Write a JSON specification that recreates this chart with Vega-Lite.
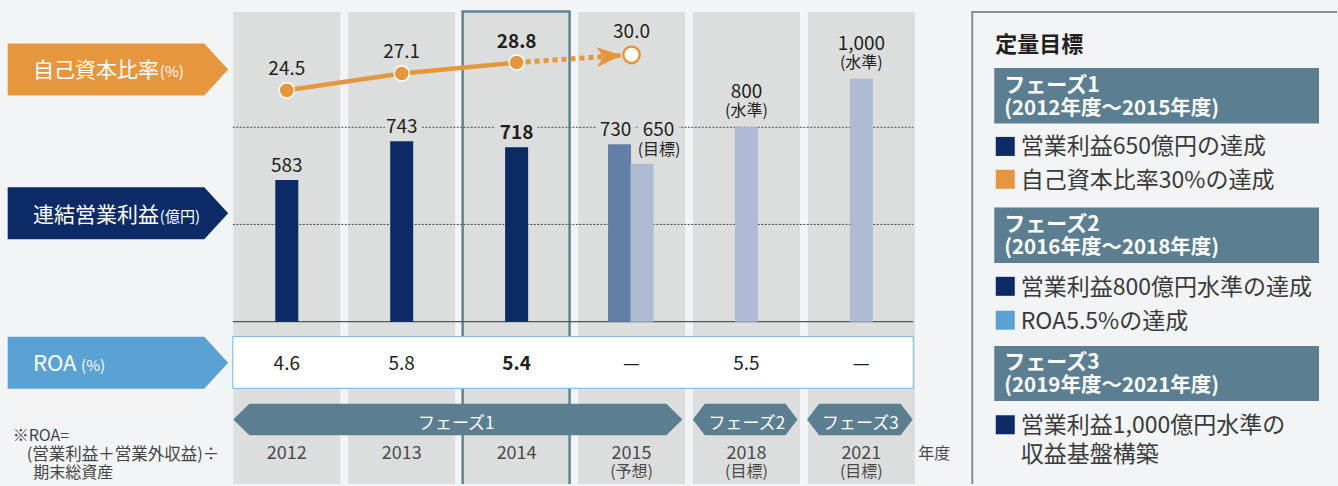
{
"$schema":"https://vega.github.io/schema/vega-lite/v6.json",
"width":1338,"height":486,
"autosize":{"type":"fit","contains":"padding"},
"padding":0,
"background":"#f2f4f6",
"config":{"view":{"stroke":null},"text":{"font":"Noto Sans CJK JP"},"scale":{"continuousPadding":0}},
"data":{"values":[{}]},
"datasets":{
"periods":[
{"period":"2012","slot":0,"year":"2012","note":"","roa":4.6},
{"period":"2013","slot":1,"year":"2013","note":"","roa":5.8},
{"period":"2014","slot":2,"year":"2014","note":"","roa":5.4},
{"period":"2015","slot":3,"year":"2015","note":"(予想)","roa":null},
{"period":"2018","slot":4,"year":"2018","note":"(目標)","roa":5.5},
{"period":"2021","slot":5,"year":"2021","note":"(目標)","roa":null}
],
"profit":[
{"period":"2012","slot":0,"value":583,"kind":"実績"},
{"period":"2013","slot":1,"value":743,"kind":"実績"},
{"period":"2014","slot":2,"value":718,"kind":"実績"},
{"period":"2015","slot":3,"value":730,"kind":"予想"},
{"period":"2015","slot":3,"value":650,"kind":"目標"},
{"period":"2018","slot":4,"value":800,"kind":"目標"},
{"period":"2021","slot":5,"value":1000,"kind":"目標"}
],
"equity":[
{"period":"2012","slot":0,"ratio":24.5,"kind":"実績"},
{"period":"2013","slot":1,"ratio":27.1,"kind":"実績"},
{"period":"2014","slot":2,"ratio":28.8,"kind":"実績"},
{"period":"2015","slot":3,"ratio":30.0,"kind":"目標"}
]
},
"layer":[
{"layer":[
{"data":{"name":"periods"},"mark":{"type":"bar","width":107,"color":"#dcdedd"},"encoding":{"x":{"field":"slot","type":"quantitative","scale":{"domain":[-2.4957,9.1391],"nice":false,"zero":false,"padding":0},"axis":null},"y":{"datum":1274.6,"type":"quantitative","scale":{"domain":[-668,1323.8],"nice":false,"zero":false,"padding":0},"axis":null},"y2":{"datum":-668}}},
{"mark":{"type":"rule","color":"#5f8396","strokeWidth":2.5},"encoding":{"x":{"datum":1.5304,"type":"quantitative","scale":{"domain":[-2.4957,9.1391],"nice":false,"zero":false,"padding":0},"axis":null},"y":{"datum":1276.6,"type":"quantitative","scale":{"domain":[-668,1323.8],"nice":false,"zero":false,"padding":0},"axis":null},"y2":{"datum":-668}}},
{"mark":{"type":"rule","color":"#5f8396","strokeWidth":2.5},"encoding":{"x":{"datum":2.4609,"type":"quantitative","scale":{"domain":[-2.4957,9.1391],"nice":false,"zero":false,"padding":0},"axis":null},"y":{"datum":1276.6,"type":"quantitative","scale":{"domain":[-668,1323.8],"nice":false,"zero":false,"padding":0},"axis":null},"y2":{"datum":-668}}},
{"mark":{"type":"rule","color":"#5f8396","strokeWidth":2.5},"encoding":{"x":{"datum":1.52,"type":"quantitative","scale":{"domain":[-2.4957,9.1391],"nice":false,"zero":false,"padding":0},"axis":null},"x2":{"datum":2.471},"y":{"datum":1276.6,"type":"quantitative","scale":{"domain":[-668,1323.8],"nice":false,"zero":false,"padding":0},"axis":null}}},
{"data":{"values":[{"level":400},{"level":800}]},"mark":{"type":"rule","color":"#4d4d4d","strokeWidth":1,"strokeDash":[2,1.5]},"encoding":{"x":{"datum":-0.4696,"type":"quantitative","scale":{"domain":[-2.4957,9.1391],"nice":false,"zero":false,"padding":0},"axis":null},"x2":{"datum":5.4522},"y":{"field":"level","type":"quantitative","scale":{"domain":[-668,1323.8],"nice":false,"zero":false,"padding":0},"axis":null}}},
{"mark":{"type":"rule","color":"#555555","strokeWidth":1.2},"encoding":{"x":{"datum":-0.4696,"type":"quantitative","scale":{"domain":[-2.4957,9.1391],"nice":false,"zero":false,"padding":0},"axis":null},"x2":{"datum":5.4522},"y":{"datum":0,"type":"quantitative","scale":{"domain":[-668,1323.8],"nice":false,"zero":false,"padding":0},"axis":null}}},
{"data":{"name":"profit"},"transform":[{"filter":"datum.period !== '2015'"}],"mark":{"type":"bar","width":23},"encoding":{"x":{"field":"slot","type":"quantitative","scale":{"domain":[-2.4957,9.1391],"nice":false,"zero":false,"padding":0},"axis":null},"y":{"field":"value","type":"quantitative","scale":{"domain":[-668,1323.8],"nice":false,"zero":false,"padding":0},"axis":null},"y2":{"datum":0},"color":{"field":"kind","type":"nominal","scale":{"domain":["実績","予想","目標"],"range":["#0b2a66","#647fa6","#aebbd3"]},"legend":null}}},
{"data":{"name":"profit"},"transform":[{"filter":"datum.period === '2015' && datum.kind === '予想'"}],"mark":{"type":"bar","width":23,"xOffset":-12},"encoding":{"x":{"field":"slot","type":"quantitative","scale":{"domain":[-2.4957,9.1391],"nice":false,"zero":false,"padding":0},"axis":null},"y":{"field":"value","type":"quantitative","scale":{"domain":[-668,1323.8],"nice":false,"zero":false,"padding":0},"axis":null},"y2":{"datum":0},"color":{"field":"kind","type":"nominal","scale":{"domain":["実績","予想","目標"],"range":["#0b2a66","#647fa6","#aebbd3"]},"legend":null}}},
{"data":{"name":"profit"},"transform":[{"filter":"datum.period === '2015' && datum.kind === '目標'"}],"mark":{"type":"bar","width":23,"xOffset":10.5},"encoding":{"x":{"field":"slot","type":"quantitative","scale":{"domain":[-2.4957,9.1391],"nice":false,"zero":false,"padding":0},"axis":null},"y":{"field":"value","type":"quantitative","scale":{"domain":[-668,1323.8],"nice":false,"zero":false,"padding":0},"axis":null},"y2":{"datum":0},"color":{"field":"kind","type":"nominal","scale":{"domain":["実績","予想","目標"],"range":["#0b2a66","#647fa6","#aebbd3"]},"legend":null}}},
{"data":{"name":"profit"},"transform":[{"filter":"datum.period === '2012' || datum.period === '2013'"}],"mark":{"type":"text","fontSize":19,"fill":"#dcdedd","stroke":"#dcdedd","strokeWidth":11,"strokeJoin":"round","align":"center","baseline":"alphabetic","dy":-8},"encoding":{"x":{"field":"slot","type":"quantitative","scale":{"domain":[-2.4957,9.1391],"nice":false,"zero":false,"padding":0},"axis":null},"y":{"field":"value","type":"quantitative","scale":{"domain":[-668,1323.8],"nice":false,"zero":false,"padding":0},"axis":null},"text":{"field":"value","type":"quantitative","format":","}}},
{"data":{"name":"profit"},"transform":[{"filter":"datum.period === '2012' || datum.period === '2013'"}],"mark":{"type":"text","fontSize":19,"fill":"#231f20","align":"center","baseline":"alphabetic","dy":-8},"encoding":{"x":{"field":"slot","type":"quantitative","scale":{"domain":[-2.4957,9.1391],"nice":false,"zero":false,"padding":0},"axis":null},"y":{"field":"value","type":"quantitative","scale":{"domain":[-668,1323.8],"nice":false,"zero":false,"padding":0},"axis":null},"text":{"field":"value","type":"quantitative","format":","}}},
{"data":{"name":"profit"},"transform":[{"filter":"datum.period === '2014'"}],"mark":{"type":"text","fontSize":19,"fontWeight":"bold","fill":"#dcdedd","stroke":"#dcdedd","strokeWidth":11,"strokeJoin":"round","align":"center","baseline":"alphabetic","dy":-8},"encoding":{"x":{"field":"slot","type":"quantitative","scale":{"domain":[-2.4957,9.1391],"nice":false,"zero":false,"padding":0},"axis":null},"y":{"field":"value","type":"quantitative","scale":{"domain":[-668,1323.8],"nice":false,"zero":false,"padding":0},"axis":null},"text":{"field":"value","type":"quantitative","format":","}}},
{"data":{"name":"profit"},"transform":[{"filter":"datum.period === '2014'"}],"mark":{"type":"text","fontSize":19,"fontWeight":"bold","fill":"#231f20","align":"center","baseline":"alphabetic","dy":-8},"encoding":{"x":{"field":"slot","type":"quantitative","scale":{"domain":[-2.4957,9.1391],"nice":false,"zero":false,"padding":0},"axis":null},"y":{"field":"value","type":"quantitative","scale":{"domain":[-668,1323.8],"nice":false,"zero":false,"padding":0},"axis":null},"text":{"field":"value","type":"quantitative","format":","}}},
{"data":{"name":"profit"},"transform":[{"filter":"datum.period === '2015' && datum.kind === '予想'"}],"mark":{"type":"text","fontSize":19,"fill":"#dcdedd","stroke":"#dcdedd","strokeWidth":11,"strokeJoin":"round","align":"center","baseline":"alphabetic","dx":-16,"dy":-8},"encoding":{"x":{"field":"slot","type":"quantitative","scale":{"domain":[-2.4957,9.1391],"nice":false,"zero":false,"padding":0},"axis":null},"y":{"field":"value","type":"quantitative","scale":{"domain":[-668,1323.8],"nice":false,"zero":false,"padding":0},"axis":null},"text":{"field":"value","type":"quantitative","format":","}}},
{"data":{"name":"profit"},"transform":[{"filter":"datum.period === '2015' && datum.kind === '予想'"}],"mark":{"type":"text","fontSize":19,"fill":"#231f20","align":"center","baseline":"alphabetic","dx":-16,"dy":-8},"encoding":{"x":{"field":"slot","type":"quantitative","scale":{"domain":[-2.4957,9.1391],"nice":false,"zero":false,"padding":0},"axis":null},"y":{"field":"value","type":"quantitative","scale":{"domain":[-668,1323.8],"nice":false,"zero":false,"padding":0},"axis":null},"text":{"field":"value","type":"quantitative","format":","}}},
{"data":{"name":"profit"},"transform":[{"filter":"datum.period === '2015' && datum.kind === '目標'"}],"mark":{"type":"text","fontSize":19,"fill":"#dcdedd","stroke":"#dcdedd","strokeWidth":11,"strokeJoin":"round","align":"center","baseline":"alphabetic","dx":27,"dy":-27.7},"encoding":{"x":{"field":"slot","type":"quantitative","scale":{"domain":[-2.4957,9.1391],"nice":false,"zero":false,"padding":0},"axis":null},"y":{"field":"value","type":"quantitative","scale":{"domain":[-668,1323.8],"nice":false,"zero":false,"padding":0},"axis":null},"text":{"field":"value","type":"quantitative","format":","}}},
{"data":{"name":"profit"},"transform":[{"filter":"datum.period === '2015' && datum.kind === '目標'"}],"mark":{"type":"text","fontSize":19,"fill":"#231f20","align":"center","baseline":"alphabetic","dx":27,"dy":-27.7},"encoding":{"x":{"field":"slot","type":"quantitative","scale":{"domain":[-2.4957,9.1391],"nice":false,"zero":false,"padding":0},"axis":null},"y":{"field":"value","type":"quantitative","scale":{"domain":[-668,1323.8],"nice":false,"zero":false,"padding":0},"axis":null},"text":{"field":"value","type":"quantitative","format":","}}},
{"data":{"name":"profit"},"transform":[{"filter":"datum.period === '2015' && datum.kind === '目標'"}],"mark":{"type":"text","fontSize":16,"fill":"#231f20","align":"center","baseline":"alphabetic","dx":27.5,"dy":-8.4,"text":"(目標)"},"encoding":{"x":{"field":"slot","type":"quantitative","scale":{"domain":[-2.4957,9.1391],"nice":false,"zero":false,"padding":0},"axis":null},"y":{"field":"value","type":"quantitative","scale":{"domain":[-668,1323.8],"nice":false,"zero":false,"padding":0},"axis":null}}},
{"data":{"name":"profit"},"transform":[{"filter":"datum.period === '2018' || datum.period === '2021'"}],"mark":{"type":"text","fontSize":19,"fill":"#231f20","align":"center","baseline":"alphabetic","dy":-29},"encoding":{"x":{"field":"slot","type":"quantitative","scale":{"domain":[-2.4957,9.1391],"nice":false,"zero":false,"padding":0},"axis":null},"y":{"field":"value","type":"quantitative","scale":{"domain":[-668,1323.8],"nice":false,"zero":false,"padding":0},"axis":null},"text":{"field":"value","type":"quantitative","format":","}}},
{"data":{"name":"profit"},"transform":[{"filter":"datum.period === '2018' || datum.period === '2021'"}],"mark":{"type":"text","fontSize":16,"fill":"#231f20","align":"center","baseline":"alphabetic","dy":-11,"text":"(水準)"},"encoding":{"x":{"field":"slot","type":"quantitative","scale":{"domain":[-2.4957,9.1391],"nice":false,"zero":false,"padding":0},"axis":null},"y":{"field":"value","type":"quantitative","scale":{"domain":[-668,1323.8],"nice":false,"zero":false,"padding":0},"axis":null}}},
{"mark":{"type":"rect","fill":"#ffffff","stroke":"#8dbde2","strokeWidth":1.2},"encoding":{"x":{"datum":-0.4696,"type":"quantitative","scale":{"domain":[-2.4957,9.1391],"nice":false,"zero":false,"padding":0},"axis":null},"x2":{"datum":5.4522},"y":{"datum":-61.5,"type":"quantitative","scale":{"domain":[-668,1323.8],"nice":false,"zero":false,"padding":0},"axis":null},"y2":{"datum":-274.6}}},
{"data":{"name":"periods"},"transform":[{"filter":"datum.roa != null && datum.period !== '2014'"}],"mark":{"type":"text","fontSize":19,"fill":"#231f20","align":"center","baseline":"alphabetic"},"encoding":{"x":{"field":"slot","type":"quantitative","scale":{"domain":[-2.4957,9.1391],"nice":false,"zero":false,"padding":0},"axis":null},"y":{"datum":-200,"type":"quantitative","scale":{"domain":[-668,1323.8],"nice":false,"zero":false,"padding":0},"axis":null},"text":{"field":"roa","type":"quantitative","format":".1f"}}},
{"data":{"name":"periods"},"transform":[{"filter":"datum.period === '2014'"}],"mark":{"type":"text","fontSize":19,"fontWeight":"bold","fill":"#231f20","align":"center","baseline":"alphabetic"},"encoding":{"x":{"field":"slot","type":"quantitative","scale":{"domain":[-2.4957,9.1391],"nice":false,"zero":false,"padding":0},"axis":null},"y":{"datum":-200,"type":"quantitative","scale":{"domain":[-668,1323.8],"nice":false,"zero":false,"padding":0},"axis":null},"text":{"field":"roa","type":"quantitative","format":".1f"}}},
{"data":{"name":"periods"},"transform":[{"filter":"datum.roa == null"}],"mark":{"type":"text","fontSize":19,"fill":"#231f20","align":"center","baseline":"alphabetic","text":"—"},"encoding":{"x":{"field":"slot","type":"quantitative","scale":{"domain":[-2.4957,9.1391],"nice":false,"zero":false,"padding":0},"axis":null},"y":{"datum":-200,"type":"quantitative","scale":{"domain":[-668,1323.8],"nice":false,"zero":false,"padding":0},"axis":null}}},
{"mark":{"type":"point","shape":"M-14.2,0L-13.19,-1L13.19,-1L14.2,0L13.19,1L-13.19,1Z","size":1000,"filled":true,"fill":"#5b7e91","opacity":1,"strokeWidth":0},"encoding":{"x":{"datum":1.4887,"type":"quantitative","scale":{"domain":[-2.4957,9.1391],"nice":false,"zero":false,"padding":0},"axis":null},"y":{"datum":-402.5,"type":"quantitative","scale":{"domain":[-668,1323.8],"nice":false,"zero":false,"padding":0},"axis":null}}},
{"mark":{"type":"point","shape":"M-3.31,0L-2.55,-1L2.55,-1L3.31,0L2.55,1L-2.55,1Z","size":1000,"filled":true,"fill":"#5b7e91","opacity":1,"strokeWidth":0},"encoding":{"x":{"datum":3.9887,"type":"quantitative","scale":{"domain":[-2.4957,9.1391],"nice":false,"zero":false,"padding":0},"axis":null},"y":{"datum":-402.5,"type":"quantitative","scale":{"domain":[-668,1323.8],"nice":false,"zero":false,"padding":0},"axis":null}}},
{"mark":{"type":"point","shape":"M-3.34,0L-2.58,-1L2.58,-1L3.34,0L2.58,1L-2.58,1Z","size":1000,"filled":true,"fill":"#5b7e91","opacity":1,"strokeWidth":0},"encoding":{"x":{"datum":4.987,"type":"quantitative","scale":{"domain":[-2.4957,9.1391],"nice":false,"zero":false,"padding":0},"axis":null},"y":{"datum":-402.5,"type":"quantitative","scale":{"domain":[-668,1323.8],"nice":false,"zero":false,"padding":0},"axis":null}}},
{"mark":{"type":"text","text":"フェーズ1","fontSize":17,"fill":"#ffffff","align":"center","baseline":"alphabetic"},"encoding":{"x":{"datum":1.474,"type":"quantitative","scale":{"domain":[-2.4957,9.1391],"nice":false,"zero":false,"padding":0},"axis":null},"y":{"datum":-441,"type":"quantitative","scale":{"domain":[-668,1323.8],"nice":false,"zero":false,"padding":0},"axis":null}}},
{"mark":{"type":"text","text":"フェーズ2","fontSize":17,"fill":"#ffffff","align":"center","baseline":"alphabetic"},"encoding":{"x":{"datum":4.004,"type":"quantitative","scale":{"domain":[-2.4957,9.1391],"nice":false,"zero":false,"padding":0},"axis":null},"y":{"datum":-441,"type":"quantitative","scale":{"domain":[-668,1323.8],"nice":false,"zero":false,"padding":0},"axis":null}}},
{"mark":{"type":"text","text":"フェーズ3","fontSize":17,"fill":"#ffffff","align":"center","baseline":"alphabetic"},"encoding":{"x":{"datum":4.991,"type":"quantitative","scale":{"domain":[-2.4957,9.1391],"nice":false,"zero":false,"padding":0},"axis":null},"y":{"datum":-441,"type":"quantitative","scale":{"domain":[-668,1323.8],"nice":false,"zero":false,"padding":0},"axis":null}}},
{"data":{"name":"periods"},"mark":{"type":"text","fontSize":18,"fill":"#4a4a4a","align":"center","baseline":"alphabetic"},"encoding":{"x":{"field":"slot","type":"quantitative","scale":{"domain":[-2.4957,9.1391],"nice":false,"zero":false,"padding":0},"axis":null},"y":{"datum":-566,"type":"quantitative","scale":{"domain":[-668,1323.8],"nice":false,"zero":false,"padding":0},"axis":null},"text":{"field":"year","type":"nominal"}}},
{"data":{"name":"periods"},"mark":{"type":"text","fontSize":16,"fill":"#4a4a4a","align":"center","baseline":"alphabetic"},"encoding":{"x":{"field":"slot","type":"quantitative","scale":{"domain":[-2.4957,9.1391],"nice":false,"zero":false,"padding":0},"axis":null},"y":{"datum":-641,"type":"quantitative","scale":{"domain":[-668,1323.8],"nice":false,"zero":false,"padding":0},"axis":null},"text":{"field":"note","type":"nominal"}}},
{"mark":{"type":"text","text":"年度","fontSize":16,"fill":"#4a4a4a","align":"left","baseline":"alphabetic"},"encoding":{"x":{"datum":5.4957,"type":"quantitative","scale":{"domain":[-2.4957,9.1391],"nice":false,"zero":false,"padding":0},"axis":null},"y":{"datum":-565,"type":"quantitative","scale":{"domain":[-668,1323.8],"nice":false,"zero":false,"padding":0},"axis":null}}},
{"mark":{"type":"point","shape":"M-4.24,-1L3.32,-1L4.24,0L3.32,1L-4.24,1Z","size":2704,"filled":true,"fill":"#e6963c","opacity":1,"strokeWidth":0},"encoding":{"x":{"datum":-1.4696,"type":"quantitative","scale":{"domain":[-2.4957,9.1391],"nice":false,"zero":false,"padding":0},"axis":null},"y":{"datum":1038.1,"type":"quantitative","scale":{"domain":[-668,1323.8],"nice":false,"zero":false,"padding":0},"axis":null}}},
{"mark":{"type":"point","shape":"M-4.24,-1L3.32,-1L4.24,0L3.32,1L-4.24,1Z","size":2704,"filled":true,"fill":"#0b2a66","opacity":1,"strokeWidth":0},"encoding":{"x":{"datum":-1.4696,"type":"quantitative","scale":{"domain":[-2.4957,9.1391],"nice":false,"zero":false,"padding":0},"axis":null},"y":{"datum":445.9,"type":"quantitative","scale":{"domain":[-668,1323.8],"nice":false,"zero":false,"padding":0},"axis":null}}},
{"mark":{"type":"point","shape":"M-4.24,-1L3.32,-1L4.24,0L3.32,1L-4.24,1Z","size":2704,"filled":true,"fill":"#5aa2d4","opacity":1,"strokeWidth":0},"encoding":{"x":{"datum":-1.4696,"type":"quantitative","scale":{"domain":[-2.4957,9.1391],"nice":false,"zero":false,"padding":0},"axis":null},"y":{"datum":-168.9,"type":"quantitative","scale":{"domain":[-668,1323.8],"nice":false,"zero":false,"padding":0},"axis":null}}},
{"mark":{"type":"text","text":"自己資本比率","fontSize":21,"fill":"#ffffff","align":"left","baseline":"alphabetic"},"encoding":{"x":{"datum":-2.2087,"type":"quantitative","scale":{"domain":[-2.4957,9.1391],"nice":false,"zero":false,"padding":0},"axis":null},"y":{"datum":1006.2,"type":"quantitative","scale":{"domain":[-668,1323.8],"nice":false,"zero":false,"padding":0},"axis":null}}},
{"mark":{"type":"text","text":"(%)","fontSize":15,"fill":"#ffffff","align":"left","baseline":"alphabetic"},"encoding":{"x":{"datum":-1.105,"type":"quantitative","scale":{"domain":[-2.4957,9.1391],"nice":false,"zero":false,"padding":0},"axis":null},"y":{"datum":1006.2,"type":"quantitative","scale":{"domain":[-668,1323.8],"nice":false,"zero":false,"padding":0},"axis":null}}},
{"mark":{"type":"text","text":"連結営業利益","fontSize":21,"fill":"#ffffff","align":"left","baseline":"alphabetic"},"encoding":{"x":{"datum":-2.2087,"type":"quantitative","scale":{"domain":[-2.4957,9.1391],"nice":false,"zero":false,"padding":0},"axis":null},"y":{"datum":411.9,"type":"quantitative","scale":{"domain":[-668,1323.8],"nice":false,"zero":false,"padding":0},"axis":null}}},
{"mark":{"type":"text","text":"(億円)","fontSize":15,"fill":"#ffffff","align":"left","baseline":"alphabetic"},"encoding":{"x":{"datum":-1.105,"type":"quantitative","scale":{"domain":[-2.4957,9.1391],"nice":false,"zero":false,"padding":0},"axis":null},"y":{"datum":411.9,"type":"quantitative","scale":{"domain":[-668,1323.8],"nice":false,"zero":false,"padding":0},"axis":null}}},
{"mark":{"type":"text","text":"ROA","fontSize":22,"fill":"#ffffff","align":"left","baseline":"alphabetic"},"encoding":{"x":{"datum":-2.2087,"type":"quantitative","scale":{"domain":[-2.4957,9.1391],"nice":false,"zero":false,"padding":0},"axis":null},"y":{"datum":-204.9,"type":"quantitative","scale":{"domain":[-668,1323.8],"nice":false,"zero":false,"padding":0},"axis":null}}},
{"mark":{"type":"text","text":"(%)","fontSize":15,"fill":"#ffffff","align":"left","baseline":"alphabetic"},"encoding":{"x":{"datum":-1.79,"type":"quantitative","scale":{"domain":[-2.4957,9.1391],"nice":false,"zero":false,"padding":0},"axis":null},"y":{"datum":-204.9,"type":"quantitative","scale":{"domain":[-668,1323.8],"nice":false,"zero":false,"padding":0},"axis":null}}},
{"mark":{"type":"text","text":"※ROA=","fontSize":16,"fill":"#444444","align":"left","baseline":"alphabetic"},"encoding":{"x":{"datum":-2.3852,"type":"quantitative","scale":{"domain":[-2.4957,9.1391],"nice":false,"zero":false,"padding":0},"axis":null},"y":{"datum":-493,"type":"quantitative","scale":{"domain":[-668,1323.8],"nice":false,"zero":false,"padding":0},"axis":null}}},
{"mark":{"type":"text","text":"(営業利益＋営業外収益)÷","fontSize":16.5,"fill":"#444444","align":"left","baseline":"alphabetic"},"encoding":{"x":{"datum":-2.2635,"type":"quantitative","scale":{"domain":[-2.4957,9.1391],"nice":false,"zero":false,"padding":0},"axis":null},"y":{"datum":-568.5,"type":"quantitative","scale":{"domain":[-668,1323.8],"nice":false,"zero":false,"padding":0},"axis":null}}},
{"mark":{"type":"text","text":"期末総資産","fontSize":16,"fill":"#444444","align":"left","baseline":"alphabetic"},"encoding":{"x":{"datum":-2.2061,"type":"quantitative","scale":{"domain":[-2.4957,9.1391],"nice":false,"zero":false,"padding":0},"axis":null},"y":{"datum":-643.4,"type":"quantitative","scale":{"domain":[-668,1323.8],"nice":false,"zero":false,"padding":0},"axis":null}}},
{"mark":{"type":"rule","color":"#8c8c8c","strokeWidth":2},"encoding":{"x":{"datum":5.9652,"type":"quantitative","scale":{"domain":[-2.4957,9.1391],"nice":false,"zero":false,"padding":0},"axis":null},"y":{"datum":1274.6,"type":"quantitative","scale":{"domain":[-668,1323.8],"nice":false,"zero":false,"padding":0},"axis":null},"y2":{"datum":-668}}},
{"mark":{"type":"rule","color":"#8c8c8c","strokeWidth":2},"encoding":{"x":{"datum":5.9565,"type":"quantitative","scale":{"domain":[-2.4957,9.1391],"nice":false,"zero":false,"padding":0},"axis":null},"x2":{"datum":9.1391},"y":{"datum":1274.6,"type":"quantitative","scale":{"domain":[-668,1323.8],"nice":false,"zero":false,"padding":0},"axis":null}}},
{"mark":{"type":"text","text":"定量目標","fontSize":22,"fontWeight":"bold","fill":"#231f20","align":"left","baseline":"alphabetic"},"encoding":{"x":{"datum":6.1652,"type":"quantitative","scale":{"domain":[-2.4957,9.1391],"nice":false,"zero":false,"padding":0},"axis":null},"y":{"datum":1110.7,"type":"quantitative","scale":{"domain":[-668,1323.8],"nice":false,"zero":false,"padding":0},"axis":null}}},
{"mark":{"type":"rect","fill":"#5b7e91"},"encoding":{"x":{"datum":6.1565,"type":"quantitative","scale":{"domain":[-2.4957,9.1391],"nice":false,"zero":false,"padding":0},"axis":null},"x2":{"datum":8.9826},"y":{"datum":1043.9,"type":"quantitative","scale":{"domain":[-668,1323.8],"nice":false,"zero":false,"padding":0},"axis":null},"y2":{"datum":815.6}}},
{"mark":{"type":"rect","fill":"#5b7e91"},"encoding":{"x":{"datum":6.1565,"type":"quantitative","scale":{"domain":[-2.4957,9.1391],"nice":false,"zero":false,"padding":0},"axis":null},"x2":{"datum":8.9826},"y":{"datum":470.1,"type":"quantitative","scale":{"domain":[-668,1323.8],"nice":false,"zero":false,"padding":0},"axis":null},"y2":{"datum":241.8}}},
{"mark":{"type":"rect","fill":"#5b7e91"},"encoding":{"x":{"datum":6.1565,"type":"quantitative","scale":{"domain":[-2.4957,9.1391],"nice":false,"zero":false,"padding":0},"axis":null},"x2":{"datum":8.9826},"y":{"datum":-99.6,"type":"quantitative","scale":{"domain":[-668,1323.8],"nice":false,"zero":false,"padding":0},"axis":null},"y2":{"datum":-326.7}}},
{"mark":{"type":"text","text":"フェーズ1","fontSize":21,"fontWeight":"bold","fill":"#ffffff","align":"left","baseline":"alphabetic"},"encoding":{"x":{"datum":6.2435,"type":"quantitative","scale":{"domain":[-2.4957,9.1391],"nice":false,"zero":false,"padding":0},"axis":null},"y":{"datum":943.9,"type":"quantitative","scale":{"domain":[-668,1323.8],"nice":false,"zero":false,"padding":0},"axis":null}}},
{"mark":{"type":"text","text":"(2012年度〜2015年度)","fontSize":20.5,"fontWeight":"bold","fill":"#ffffff","align":"left","baseline":"alphabetic"},"encoding":{"x":{"datum":6.2435,"type":"quantitative","scale":{"domain":[-2.4957,9.1391],"nice":false,"zero":false,"padding":0},"axis":null},"y":{"datum":852.5,"type":"quantitative","scale":{"domain":[-668,1323.8],"nice":false,"zero":false,"padding":0},"axis":null}}},
{"mark":{"type":"text","text":"フェーズ2","fontSize":21,"fontWeight":"bold","fill":"#ffffff","align":"left","baseline":"alphabetic"},"encoding":{"x":{"datum":6.2435,"type":"quantitative","scale":{"domain":[-2.4957,9.1391],"nice":false,"zero":false,"padding":0},"axis":null},"y":{"datum":374.2,"type":"quantitative","scale":{"domain":[-668,1323.8],"nice":false,"zero":false,"padding":0},"axis":null}}},
{"mark":{"type":"text","text":"(2016年度〜2018年度)","fontSize":20.5,"fontWeight":"bold","fill":"#ffffff","align":"left","baseline":"alphabetic"},"encoding":{"x":{"datum":6.2435,"type":"quantitative","scale":{"domain":[-2.4957,9.1391],"nice":false,"zero":false,"padding":0},"axis":null},"y":{"datum":278.7,"type":"quantitative","scale":{"domain":[-668,1323.8],"nice":false,"zero":false,"padding":0},"axis":null}}},
{"mark":{"type":"text","text":"フェーズ3","fontSize":21,"fontWeight":"bold","fill":"#ffffff","align":"left","baseline":"alphabetic"},"encoding":{"x":{"datum":6.2435,"type":"quantitative","scale":{"domain":[-2.4957,9.1391],"nice":false,"zero":false,"padding":0},"axis":null},"y":{"datum":-195.5,"type":"quantitative","scale":{"domain":[-668,1323.8],"nice":false,"zero":false,"padding":0},"axis":null}}},
{"mark":{"type":"text","text":"(2019年度〜2021年度)","fontSize":20.5,"fontWeight":"bold","fill":"#ffffff","align":"left","baseline":"alphabetic"},"encoding":{"x":{"datum":6.2435,"type":"quantitative","scale":{"domain":[-2.4957,9.1391],"nice":false,"zero":false,"padding":0},"axis":null},"y":{"datum":-291,"type":"quantitative","scale":{"domain":[-668,1323.8],"nice":false,"zero":false,"padding":0},"axis":null}}},
{"mark":{"type":"point","shape":"square","size":361,"filled":true,"fill":"#0b2a66","opacity":1,"strokeWidth":0},"encoding":{"x":{"datum":6.2522,"type":"quantitative","scale":{"domain":[-2.4957,9.1391],"nice":false,"zero":false,"padding":0},"axis":null},"y":{"datum":721.3,"type":"quantitative","scale":{"domain":[-668,1323.8],"nice":false,"zero":false,"padding":0},"axis":null}}},
{"mark":{"type":"point","shape":"square","size":361,"filled":true,"fill":"#e6963c","opacity":1,"strokeWidth":0},"encoding":{"x":{"datum":6.2522,"type":"quantitative","scale":{"domain":[-2.4957,9.1391],"nice":false,"zero":false,"padding":0},"axis":null},"y":{"datum":586.1,"type":"quantitative","scale":{"domain":[-668,1323.8],"nice":false,"zero":false,"padding":0},"axis":null}}},
{"mark":{"type":"point","shape":"square","size":361,"filled":true,"fill":"#0b2a66","opacity":1,"strokeWidth":0},"encoding":{"x":{"datum":6.2522,"type":"quantitative","scale":{"domain":[-2.4957,9.1391],"nice":false,"zero":false,"padding":0},"axis":null},"y":{"datum":145.5,"type":"quantitative","scale":{"domain":[-668,1323.8],"nice":false,"zero":false,"padding":0},"axis":null}}},
{"mark":{"type":"point","shape":"square","size":361,"filled":true,"fill":"#5aa2d4","opacity":1,"strokeWidth":0},"encoding":{"x":{"datum":6.2522,"type":"quantitative","scale":{"domain":[-2.4957,9.1391],"nice":false,"zero":false,"padding":0},"axis":null},"y":{"datum":6.1,"type":"quantitative","scale":{"domain":[-668,1323.8],"nice":false,"zero":false,"padding":0},"axis":null}}},
{"mark":{"type":"point","shape":"square","size":361,"filled":true,"fill":"#0b2a66","opacity":1,"strokeWidth":0},"encoding":{"x":{"datum":6.2522,"type":"quantitative","scale":{"domain":[-2.4957,9.1391],"nice":false,"zero":false,"padding":0},"axis":null},"y":{"datum":-424.2,"type":"quantitative","scale":{"domain":[-668,1323.8],"nice":false,"zero":false,"padding":0},"axis":null}}},
{"mark":{"type":"text","text":"営業利益650億円の達成","fontSize":23,"fill":"#3a3a3a","align":"left","baseline":"alphabetic"},"encoding":{"x":{"datum":6.387,"type":"quantitative","scale":{"domain":[-2.4957,9.1391],"nice":false,"zero":false,"padding":0},"axis":null},"y":{"datum":688.5,"type":"quantitative","scale":{"domain":[-668,1323.8],"nice":false,"zero":false,"padding":0},"axis":null}}},
{"mark":{"type":"text","text":"自己資本比率30%の達成","fontSize":23,"fill":"#3a3a3a","align":"left","baseline":"alphabetic"},"encoding":{"x":{"datum":6.387,"type":"quantitative","scale":{"domain":[-2.4957,9.1391],"nice":false,"zero":false,"padding":0},"axis":null},"y":{"datum":549.2,"type":"quantitative","scale":{"domain":[-668,1323.8],"nice":false,"zero":false,"padding":0},"axis":null}}},
{"mark":{"type":"text","text":"営業利益800億円水準の達成","fontSize":23,"fill":"#3a3a3a","align":"left","baseline":"alphabetic"},"encoding":{"x":{"datum":6.387,"type":"quantitative","scale":{"domain":[-2.4957,9.1391],"nice":false,"zero":false,"padding":0},"axis":null},"y":{"datum":107.8,"type":"quantitative","scale":{"domain":[-668,1323.8],"nice":false,"zero":false,"padding":0},"axis":null}}},
{"mark":{"type":"text","text":"ROA5.5%の達成","fontSize":23,"fill":"#3a3a3a","align":"left","baseline":"alphabetic"},"encoding":{"x":{"datum":6.387,"type":"quantitative","scale":{"domain":[-2.4957,9.1391],"nice":false,"zero":false,"padding":0},"axis":null},"y":{"datum":-28.7,"type":"quantitative","scale":{"domain":[-668,1323.8],"nice":false,"zero":false,"padding":0},"axis":null}}},
{"mark":{"type":"text","text":"営業利益1,000億円水準の","fontSize":23,"fill":"#3a3a3a","align":"left","baseline":"alphabetic"},"encoding":{"x":{"datum":6.387,"type":"quantitative","scale":{"domain":[-2.4957,9.1391],"nice":false,"zero":false,"padding":0},"axis":null},"y":{"datum":-459,"type":"quantitative","scale":{"domain":[-668,1323.8],"nice":false,"zero":false,"padding":0},"axis":null}}},
{"mark":{"type":"text","text":"収益基盤構築","fontSize":23,"fill":"#3a3a3a","align":"left","baseline":"alphabetic"},"encoding":{"x":{"datum":6.387,"type":"quantitative","scale":{"domain":[-2.4957,9.1391],"nice":false,"zero":false,"padding":0},"axis":null},"y":{"datum":-577.9,"type":"quantitative","scale":{"domain":[-668,1323.8],"nice":false,"zero":false,"padding":0},"axis":null}}}
]},
{"layer":[
{"data":{"name":"equity"},"transform":[{"filter":"datum.kind === '実績'"}],"mark":{"type":"line","color":"#e6963c","strokeWidth":4.5},"encoding":{"x":{"field":"slot","type":"quantitative","scale":{"domain":[-2.4957,9.1391],"nice":false,"zero":false,"padding":0},"axis":null},"y":{"field":"ratio","type":"quantitative","scale":{"domain":[-36.41,38.475],"nice":false,"zero":false,"padding":0},"axis":null}}},
{"data":{"name":"equity"},"transform":[{"filter":"datum.slot >= 2"}],"mark":{"type":"line","color":"#e6963c","strokeWidth":5,"strokeDash":[5,4]},"encoding":{"x":{"field":"slot","type":"quantitative","scale":{"domain":[-2.4957,9.1391],"nice":false,"zero":false,"padding":0},"axis":null},"y":{"field":"ratio","type":"quantitative","scale":{"domain":[-36.41,38.475],"nice":false,"zero":false,"padding":0},"axis":null}}},
{"data":{"name":"equity"},"transform":[{"filter":"datum.kind === '目標'"}],"mark":{"type":"point","shape":"M-1,0L-3.5,-1L-2.85,0L-3.5,1Z","size":400,"angle":-3.6,"filled":true,"fill":"#e6963c","opacity":1,"strokeWidth":0},"encoding":{"x":{"field":"slot","type":"quantitative","scale":{"domain":[-2.4957,9.1391],"nice":false,"zero":false,"padding":0},"axis":null},"y":{"field":"ratio","type":"quantitative","scale":{"domain":[-36.41,38.475],"nice":false,"zero":false,"padding":0},"axis":null}}},
{"data":{"name":"equity"},"transform":[{"filter":"datum.kind === '実績'"}],"mark":{"type":"point","shape":"circle","size":230,"filled":true,"fill":"#e6963c","stroke":"#ffffff","strokeWidth":1.5,"opacity":1},"encoding":{"x":{"field":"slot","type":"quantitative","scale":{"domain":[-2.4957,9.1391],"nice":false,"zero":false,"padding":0},"axis":null},"y":{"field":"ratio","type":"quantitative","scale":{"domain":[-36.41,38.475],"nice":false,"zero":false,"padding":0},"axis":null}}},
{"data":{"name":"equity"},"transform":[{"filter":"datum.kind === '目標'"}],"mark":{"type":"point","shape":"circle","size":270,"filled":true,"fill":"#ffffff","stroke":"#e6963c","strokeWidth":2.5,"opacity":1},"encoding":{"x":{"field":"slot","type":"quantitative","scale":{"domain":[-2.4957,9.1391],"nice":false,"zero":false,"padding":0},"axis":null},"y":{"field":"ratio","type":"quantitative","scale":{"domain":[-36.41,38.475],"nice":false,"zero":false,"padding":0},"axis":null}}},
{"data":{"name":"equity"},"transform":[{"filter":"datum.period === '2012' || datum.period === '2013'"}],"mark":{"type":"text","fontSize":19,"fill":"#231f20","align":"center","baseline":"alphabetic","dy":-15.5},"encoding":{"x":{"field":"slot","type":"quantitative","scale":{"domain":[-2.4957,9.1391],"nice":false,"zero":false,"padding":0},"axis":null},"y":{"field":"ratio","type":"quantitative","scale":{"domain":[-36.41,38.475],"nice":false,"zero":false,"padding":0},"axis":null},"text":{"field":"ratio","type":"quantitative","format":".1f"}}},
{"data":{"name":"equity"},"transform":[{"filter":"datum.period === '2014'"}],"mark":{"type":"text","fontSize":19,"fontWeight":"bold","fill":"#231f20","align":"center","baseline":"alphabetic","dy":-14.5},"encoding":{"x":{"field":"slot","type":"quantitative","scale":{"domain":[-2.4957,9.1391],"nice":false,"zero":false,"padding":0},"axis":null},"y":{"field":"ratio","type":"quantitative","scale":{"domain":[-36.41,38.475],"nice":false,"zero":false,"padding":0},"axis":null},"text":{"field":"ratio","type":"quantitative","format":".1f"}}},
{"data":{"name":"equity"},"transform":[{"filter":"datum.period === '2015'"}],"mark":{"type":"text","fontSize":19,"fill":"#231f20","align":"center","baseline":"alphabetic","dy":-17},"encoding":{"x":{"field":"slot","type":"quantitative","scale":{"domain":[-2.4957,9.1391],"nice":false,"zero":false,"padding":0},"axis":null},"y":{"field":"ratio","type":"quantitative","scale":{"domain":[-36.41,38.475],"nice":false,"zero":false,"padding":0},"axis":null},"text":{"field":"ratio","type":"quantitative","format":".1f"}}}
]}
],
"resolve":{"scale":{"y":"independent"}}
}
